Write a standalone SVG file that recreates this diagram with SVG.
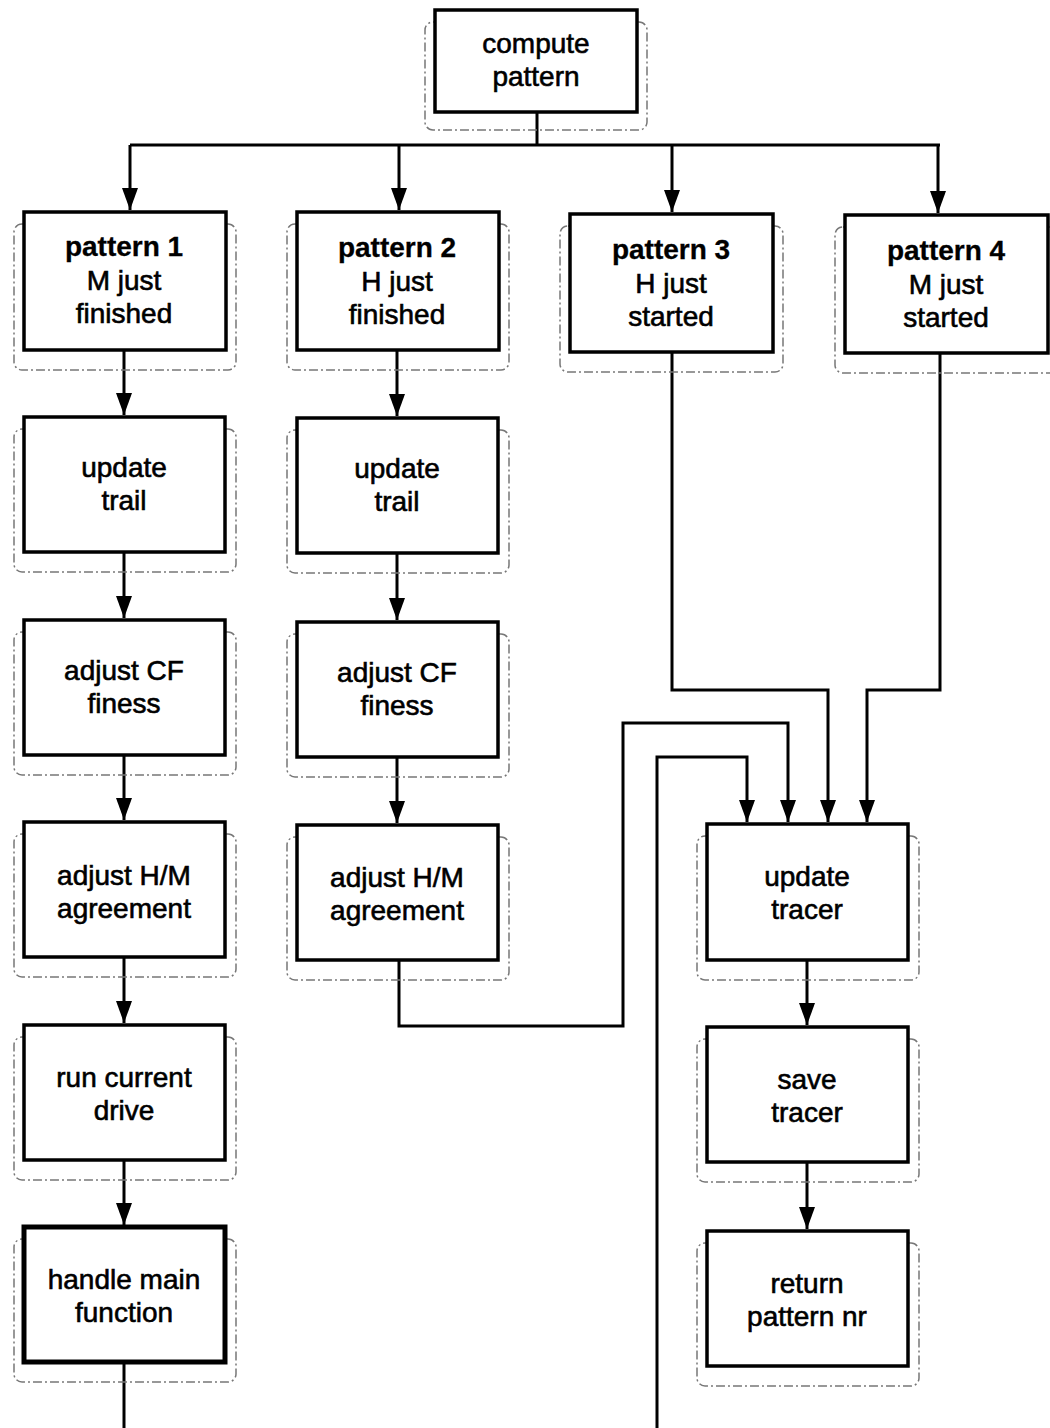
<svg xmlns="http://www.w3.org/2000/svg" width="1050" height="1428" viewBox="0 0 1050 1428">
<style>
.box{fill:#fff;stroke:#000;stroke-width:3.5}
.thick{stroke-width:5}
.sh{fill:none;stroke:#777;stroke-width:1.5;stroke-dasharray:9 3 2 3}
.t{font-family:"Liberation Sans",Arial,sans-serif;font-size:28px;text-anchor:middle;fill:#000;stroke:#000;stroke-width:0.6}
.b{font-weight:bold;stroke-width:0.3}
.c{fill:none;stroke:#000;stroke-width:3}
</style>
<defs>
<marker id="ah" viewBox="0 0 22 16" refX="22" refY="8" markerWidth="22" markerHeight="16" markerUnits="userSpaceOnUse" orient="auto">
<path d="M0,0 L22,8 L0,16 z" fill="#000"/>
</marker>
</defs>
<rect width="1050" height="1428" fill="#fff"/>
<g id="connectors">
<path class="c" d="M537,112 V145"/>
<path class="c" d="M130,145 H940"/>
<path class="c" d="M130,145 V210" marker-end="url(#ah)"/>
<path class="c" d="M399,145 V210" marker-end="url(#ah)"/>
<path class="c" d="M672,145 V212" marker-end="url(#ah)"/>
<path class="c" d="M938,145 V213" marker-end="url(#ah)"/>
<path class="c" d="M124,350 V415" marker-end="url(#ah)"/>
<path class="c" d="M124,552 V618" marker-end="url(#ah)"/>
<path class="c" d="M124,755 V820" marker-end="url(#ah)"/>
<path class="c" d="M124,957 V1023" marker-end="url(#ah)"/>
<path class="c" d="M124,1160 V1225" marker-end="url(#ah)"/>
<path class="c" d="M124,1362 V1428"/>
<path class="c" d="M397,350 V416" marker-end="url(#ah)"/>
<path class="c" d="M397,553 V620" marker-end="url(#ah)"/>
<path class="c" d="M397,757 V823" marker-end="url(#ah)"/>
<path class="c" d="M672,352 V690 H828 V822" marker-end="url(#ah)"/>
<path class="c" d="M940,353 V690 H867 V822" marker-end="url(#ah)"/>
<path class="c" d="M399,960 V1026 H623 V723 H788 V822" marker-end="url(#ah)"/>
<path class="c" d="M657,1428 V757 H747 V822" marker-end="url(#ah)"/>
<path class="c" d="M807,960 V1025" marker-end="url(#ah)"/>
<path class="c" d="M807,1162 V1229" marker-end="url(#ah)"/>
</g>
<g id="compute">
<rect class="sh" x="425" y="22" width="222" height="108" rx="8"/>
<rect class="box" x="435" y="10" width="202" height="102"/>
<text class="t" x="536" y="53">compute</text>
<text class="t" x="536" y="86">pattern</text>
</g>
<g id="p1">
<rect class="sh" x="14" y="224" width="222" height="146" rx="8"/>
<rect class="box" x="24" y="212" width="202" height="138"/>
<text class="t b" x="124" y="256">pattern 1</text>
<text class="t" x="124" y="290">M just</text>
<text class="t" x="124" y="323">finished</text>
</g>
<g id="p2">
<rect class="sh" x="287" y="224" width="222" height="146" rx="8"/>
<rect class="box" x="297" y="212" width="202" height="138"/>
<text class="t b" x="397" y="257">pattern 2</text>
<text class="t" x="397" y="291">H just</text>
<text class="t" x="397" y="324">finished</text>
</g>
<g id="p3">
<rect class="sh" x="560" y="226" width="223" height="146" rx="8"/>
<rect class="box" x="570" y="214" width="203" height="138"/>
<text class="t b" x="671" y="259">pattern 3</text>
<text class="t" x="671" y="293">H just</text>
<text class="t" x="671" y="326">started</text>
</g>
<g id="p4">
<rect class="sh" x="835" y="227" width="223" height="146" rx="8"/>
<rect class="box" x="845" y="215" width="203" height="138"/>
<text class="t b" x="946" y="260">pattern 4</text>
<text class="t" x="946" y="294">M just</text>
<text class="t" x="946" y="327">started</text>
</g>
<g id="ut1">
<rect class="sh" x="14" y="429" width="222" height="143" rx="8"/>
<rect class="box" x="24" y="417" width="201" height="135"/>
<text class="t" x="124" y="477">update</text>
<text class="t" x="124" y="510">trail</text>
</g>
<g id="cf1">
<rect class="sh" x="14" y="632" width="222" height="143" rx="8"/>
<rect class="box" x="24" y="620" width="201" height="135"/>
<text class="t" x="124" y="680">adjust CF</text>
<text class="t" x="124" y="713">finess</text>
</g>
<g id="hm1">
<rect class="sh" x="14" y="834" width="222" height="143" rx="8"/>
<rect class="box" x="24" y="822" width="201" height="135"/>
<text class="t" x="124" y="885">adjust H/M</text>
<text class="t" x="124" y="918">agreement</text>
</g>
<g id="rcd">
<rect class="sh" x="14" y="1037" width="222" height="143" rx="8"/>
<rect class="box" x="24" y="1025" width="201" height="135"/>
<text class="t" x="124" y="1087">run current</text>
<text class="t" x="124" y="1120">drive</text>
</g>
<g id="hmf">
<rect class="sh" x="14" y="1239" width="222" height="143" rx="8"/>
<rect class="box thick" x="24" y="1227" width="201" height="135"/>
<text class="t" x="124" y="1289">handle main</text>
<text class="t" x="124" y="1322">function</text>
</g>
<g id="ut2">
<rect class="sh" x="287" y="430" width="222" height="143" rx="8"/>
<rect class="box" x="297" y="418" width="201" height="135"/>
<text class="t" x="397" y="478">update</text>
<text class="t" x="397" y="511">trail</text>
</g>
<g id="cf2">
<rect class="sh" x="287" y="634" width="222" height="143" rx="8"/>
<rect class="box" x="297" y="622" width="201" height="135"/>
<text class="t" x="397" y="682">adjust CF</text>
<text class="t" x="397" y="715">finess</text>
</g>
<g id="hm2">
<rect class="sh" x="287" y="837" width="222" height="143" rx="8"/>
<rect class="box" x="297" y="825" width="201" height="135"/>
<text class="t" x="397" y="887">adjust H/M</text>
<text class="t" x="397" y="920">agreement</text>
</g>
<g id="utr">
<rect class="sh" x="697" y="836" width="222" height="144" rx="8"/>
<rect class="box" x="707" y="824" width="201" height="136"/>
<text class="t" x="807" y="886">update</text>
<text class="t" x="807" y="919">tracer</text>
</g>
<g id="str">
<rect class="sh" x="697" y="1039" width="222" height="143" rx="8"/>
<rect class="box" x="707" y="1027" width="201" height="135"/>
<text class="t" x="807" y="1089">save</text>
<text class="t" x="807" y="1122">tracer</text>
</g>
<g id="rpn">
<rect class="sh" x="697" y="1243" width="222" height="143" rx="8"/>
<rect class="box" x="707" y="1231" width="201" height="135"/>
<text class="t" x="807" y="1293">return</text>
<text class="t" x="807" y="1326">pattern nr</text>
</g>
</svg>
